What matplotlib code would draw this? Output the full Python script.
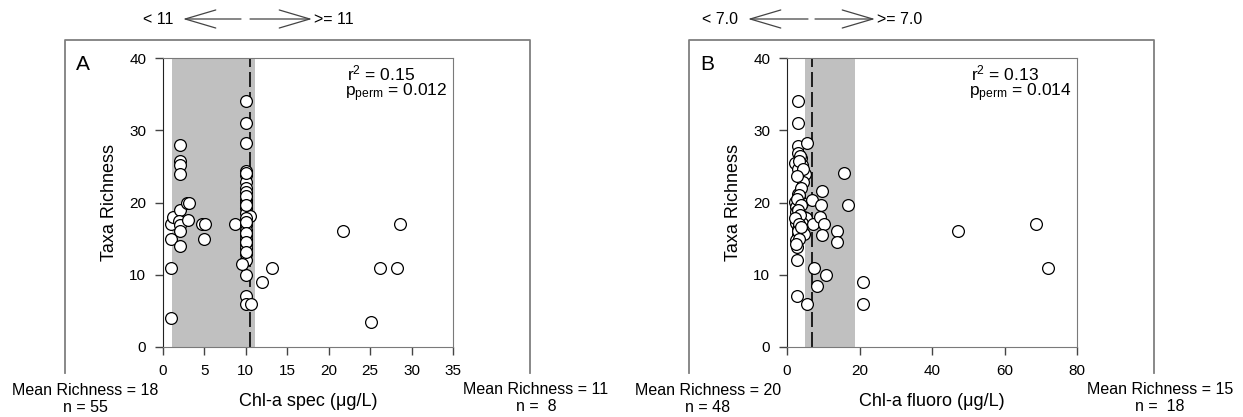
import matplotlib.pyplot as plt
from matplotlib.lines import Line2D

plt.rcParams['font.family'] = ['Liberation Sans', 'DejaVu Sans']
plt.rcParams['mathtext.fontset'] = 'custom'
plt.rcParams['mathtext.rm'] = 'Liberation Sans'

W, H = 1243, 417

# ---------- data ----------
# panel A: Chl-a spec vs taxa richness
spec_x = [1.0, 1.25, 0.95, 0.95, 0.95,
          2.0, 2.0, 2.0, 2.0, 2.1, 1.9, 2.0, 2.0, 2.0,
          2.95, 3.1, 3.0, 4.7, 5.1, 5.0, 8.7,
          10.0, 10.0, 10.0, 10.0, 10.0, 10.0, 10.0, 10.0, 10.0, 10.0, 10.0, 10.0,
          10.0, 10.0, 10.0, 10.0, 10.0, 10.0, 10.0, 10.0, 10.0, 10.0, 10.0, 10.0,
          10.45, 9.5,
          10.0, 10.0, 10.0, 10.0, 10.0, 10.0, 10.0, 10.0,
          10.65, 11.9, 13.2, 21.7, 25.1, 26.2, 28.2, 28.6]
spec_y = [17, 18, 15, 11, 4,
          28, 25.7, 25.2, 24, 19, 17.5, 16.9, 16, 14,
          20, 20, 17.6, 17, 17, 15, 17,
          34.1, 31.0, 28.3, 24.4, 23.8, 22.9, 22.0, 21.4, 20.4, 19.9, 19.2, 18.5,
          17.6, 16.9, 16.2, 15.5, 14.9, 14.3, 13.7, 12.9, 12.0, 10.0, 7.1, 6.0,
          18.1, 11.5,
          24.1, 20.9, 19.6, 17.9, 17.3, 15.8, 14.6, 13.2,
          6.0, 9.0, 11.0, 16.0, 3.5, 11.0, 11.0, 17.0]

# panel B: Chl-a fluoro vs taxa richness
fluoro_x = [2.95, 2.95, 2.9, 5.6, 2.9, 2.1, 3.8, 4.2, 3.1, 4.9, 4.4,
            3.0, 3.2, 2.3, 4.2, 2.5, 2.6, 4.6, 5.2, 2.5, 4.1, 2.9, 4.1, 2.9, 3.5,
            2.6, 2.8, 2.8, 2.8, 5.6, 6.8,
            3.5, 3.3, 4.5, 2.7, 3.8, 3.4, 2.8, 3.9, 3.0, 3.6, 2.2, 3.4, 3.1, 4.6,
            3.3, 2.4, 3.9,
            7.1, 7.5, 8.3, 10.8, 9.6, 9.3, 9.1, 10.2, 9.6, 13.7, 13.9, 15.8, 16.8,
            20.9, 20.9, 47.1, 68.6, 71.9]
fluoro_y = [34.0, 31.0, 27.8, 28.3, 26.8, 25.5, 26.1, 25.2, 24.6, 24.0, 22.9,
            21.2, 20.8, 20.1, 20.0, 19.4, 18.7, 18.0, 17.8, 17.2, 17.1, 16.4, 16.0, 15.5, 15.3,
            14.8, 13.9, 12.0, 7.1, 6.0, 20.4,
            26.5, 25.8, 24.6, 23.6, 22.0, 21.0, 20.5, 19.6, 18.9, 18.3, 17.8, 17.0, 16.1, 15.6,
            15.0, 14.3, 16.6,
            17.0, 11.0, 8.4, 10.0, 21.6, 19.6, 18.0, 17.0, 15.5, 16.0, 14.5, 24.1, 19.6,
            9.0, 6.0, 16.0, 17.0, 11.0]

spec_split, spec_band = 10.5, (1.1, 11.1)
fluoro_split, fluoro_band = 7.0, (5.0, 18.8)

fig = plt.figure(figsize=(W / 100, H / 100), dpi=100)


def fx(x):
    return x / W


def fy(y):
    return 1 - y / H


def panel(left, box, xs, ys, xmax, xstep, band, split, letter, xlabel,
          r2, pperm, lo, hi, arrows):
    ax = fig.add_axes([fx(left), fy(347), 290 / W, 289 / H])
    ax.axvspan(band[0], band[1], color='#c0c0c0', lw=0, zorder=0)
    ax.axvline(split, color='black', lw=1.2, dashes=(9, 3), zorder=1)
    ax.scatter(xs, ys, s=72, facecolor='white', edgecolor='black',
               linewidth=0.9, zorder=3, clip_on=False)
    ax.set_xlim(0, xmax)
    ax.set_ylim(0, 40)
    ax.set_xticks(range(0, xmax + 1, xstep))
    ax.set_yticks(range(0, 41, 10))
    for s in ['top', 'right', 'bottom']:
        ax.spines[s].set_color('#7a7a7a')
    ax.spines['left'].set_color('#222222')
    ax.tick_params(direction='out', length=6, width=1, labelsize=11,
                   pad=6, color='#444444')
    ax.set_xlabel(xlabel, fontsize=13, labelpad=11)
    ax.set_ylabel('Taxa Richness', fontsize=13, labelpad=8)

    # panel letter and stats
    fig.text(fx(box[0] + 11), fy(64), letter, fontsize=15, va='center')
    fig.text(fx(left + 184), fy(73), r'$\mathregular{r^2}$ = ' + r2,
             fontsize=12.5, va='center')
    fig.text(fx(left + 182), fy(93), r'$\mathregular{p_{perm}}$ = ' + pperm,
             fontsize=12.5, va='center')

    # open frame around the panel
    fig.add_artist(Line2D([fx(box[0]), fx(box[0]), fx(box[1]), fx(box[1])],
                          [fy(373), fy(40), fy(40), fy(373)],
                          transform=fig.transFigure, color='#7f7f7f', lw=1.3))

    # group summaries below the frame
    fig.text(fx(lo[0]), fy(399), lo[1], ha='center', va='center',
             fontsize=11.5, multialignment='center', linespacing=1.1)
    fig.text(fx(hi[0]), fy(398), hi[1], ha='center', va='center',
             fontsize=11.5, multialignment='center', linespacing=1.1)

    # split arrows on top
    a0, a1, b0, b1, t_lo, t_hi = arrows
    fig.text(fx(a0 - 10), fy(19), t_lo, ha='right', va='center', fontsize=11.5)
    fig.text(fx(b1 + 2), fy(19), t_hi, ha='left', va='center', fontsize=11.5)
    style = dict(arrowstyle='->,head_length=2.2,head_width=0.65', color='#444444',
                 lw=0.9, mutation_scale=10, shrinkA=0, shrinkB=0)
    ax.annotate('', xy=(fx(a0), fy(19)), xytext=(fx(a1), fy(19)),
                xycoords='figure fraction', arrowprops=style, annotation_clip=False)
    ax.annotate('', xy=(fx(b1), fy(19)), xytext=(fx(b0), fy(19)),
                xycoords='figure fraction', arrowprops=style, annotation_clip=False)
    return ax


panel(163, (65, 530), spec_x, spec_y, 35, 5, spec_band, spec_split, 'A',
      'Chl-a spec (μg/L)', '0.15', '0.012',
      (85, 'Mean Richness = 18\nn = 55'), (536, 'Mean Richness = 11\nn =  8'),
      (183, 241, 250, 312, '< 11', '>= 11'))

panel(787, (689, 1154), fluoro_x, fluoro_y, 80, 20, fluoro_band, fluoro_split, 'B',
      'Chl-a fluoro (μg/L)', '0.13', '0.014',
      (708, 'Mean Richness = 20\nn = 48'), (1160, 'Mean Richness = 15\nn =  18'),
      (748, 808, 815, 875, '< 7.0', '>= 7.0'))

fig.savefig('out.png', dpi=100)
